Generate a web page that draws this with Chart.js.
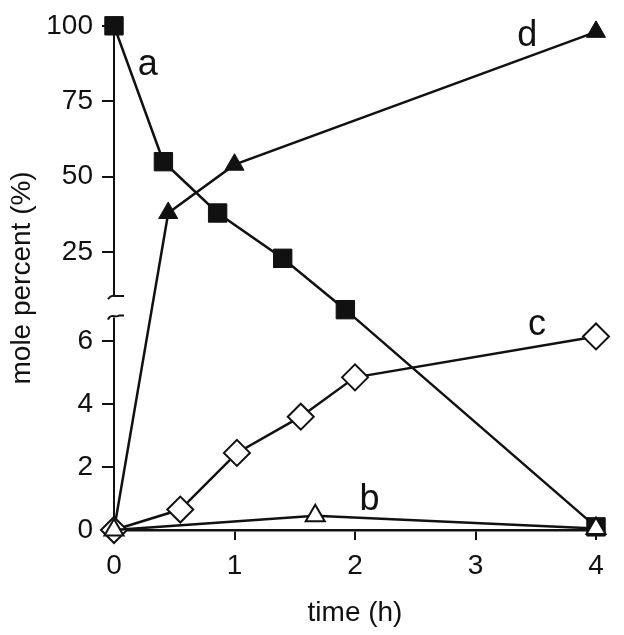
<!DOCTYPE html>
<html>
<head>
<meta charset="utf-8">
<script src="https://cdn.jsdelivr.net/npm/chart.js@4"></script>
<style>
  html, body { margin: 0; padding: 0; background: #fff; }
</style>
</head>
<body>
<canvas id="chart" width="624" height="635"></canvas>
<script>
// values: time (h) and mole percent (%)
const timeA = [0, 0.41, 0.86, 1.40, 1.92, 4];
const valuesA = [100, 55, 38, 23, 7, 0.1];
const timeB = [0, 1.67, 4];
const valuesB = [0, 0.45, 0.05];
const timeC = [0, 0.55, 1.02, 1.55, 2.0, 4];
const valuesC = [0, 0.65, 2.45, 3.6, 4.85, 6.15];
const timeD = [0, 0.45, 1.0, 4];
const valuesD = [0, 38, 54, 98];

const xTicks = [0, 1, 2, 3, 4];
const yTicks = [0, 2, 4, 6, 25, 50, 75, 100];

// curve letters and where they sit (in data units)
const seriesNames = ['a', 'b', 'c', 'd'];
const labelTimes = [0.28, 2.12, 3.51, 3.43];
const labelValues = [87, 0.95, 6.5, 96.7];

// broken y axis: value -> fraction of the axis height
const breakAnchors = [[0, 0], [7, 0.437], [10.5, 0.464], [100, 1]];
const lowerTop = 6.75, upperBottom = 10.5;

Chart.defaults.font.family = '"Liberation Sans", Arial, sans-serif';

function toDecimal(v) {
    for (let i = 1; i < breakAnchors.length; i++) {
        const [v0, d0] = breakAnchors[i - 1], [v1, d1] = breakAnchors[i];
        if (v <= v1 || i === breakAnchors.length - 1) {
            return d0 + (v - v0) / (v1 - v0) * (d1 - d0);
        }
    }
}
function fromDecimal(d) {
    for (let i = 1; i < breakAnchors.length; i++) {
        const [v0, d0] = breakAnchors[i - 1], [v1, d1] = breakAnchors[i];
        if (d <= d1 || i === breakAnchors.length - 1) {
            return v0 + (d - d0) / (d1 - d0) * (v1 - v0);
        }
    }
}

class BrokenScale extends Chart.LinearScale {
    getPixelForValue(value) {
        if (value === null || isNaN(value)) return NaN;
        return this.getPixelForDecimal(toDecimal(value));
    }
    getValueForPixel(pixel) {
        return fromDecimal(this.getDecimalForPixel(pixel));
    }
}
BrokenScale.id = 'broken';
BrokenScale.defaults = Chart.LinearScale.defaults;
Chart.register(BrokenScale);

const toPoints = (xs, ys) => xs.map((x, i) => ({ x: x, y: ys[i] }));

// y axis line with the break, drawn under the markers
const axisBreakPlugin = {
    id: 'axisBreak',
    beforeDatasetsDraw(chart) {
        const ctx = chart.ctx;
        const y = chart.scales.y;
        const x0 = chart.chartArea.left;
        const yTop = chart.chartArea.top - 2;
        const yUp = y.getPixelForValue(upperBottom);
        const yLow = y.getPixelForValue(lowerTop);
        const yBottom = chart.chartArea.bottom;
        ctx.save();
        ctx.strokeStyle = '#111';
        ctx.lineWidth = 2;
        ctx.beginPath();
        ctx.moveTo(x0, yTop);
        ctx.lineTo(x0, yUp);
        ctx.moveTo(x0, yLow);
        ctx.lineTo(x0, yBottom);
        ctx.stroke();
        // little squiggles at the break
        ctx.beginPath();
        ctx.moveTo(x0 - 6, yUp + 3);
        ctx.quadraticCurveTo(x0 - 3, yUp - 1, x0, yUp);
        ctx.lineTo(x0 + 10, yUp);
        ctx.moveTo(x0 - 6, yLow + 2);
        ctx.bezierCurveTo(x0 - 3, yLow - 5, x0 + 2, yLow + 1, x0 + 5, yLow - 2);
        ctx.lineTo(x0 + 10, yLow - 2);
        ctx.stroke();
        ctx.restore();
    },
    afterDraw(chart) {
        const ctx = chart.ctx;
        ctx.save();
        ctx.fillStyle = '#111';
        ctx.font = '36px "Liberation Sans", Arial, sans-serif';
        ctx.textAlign = 'center';
        ctx.textBaseline = 'middle';
        seriesNames.forEach((name, i) => {
            ctx.fillText(name,
                chart.scales.x.getPixelForValue(labelTimes[i]),
                chart.scales.y.getPixelForValue(labelValues[i]));
        });
        ctx.restore();
    }
};

const lineStyle = {
    borderColor: '#111',
    borderWidth: 2.5,
    tension: 0,
    pointBorderColor: '#111',
    clip: false
};

new Chart(document.getElementById('chart').getContext('2d'), {
    type: 'line',
    data: {
        datasets: [
            Object.assign({ label: 'b', data: toPoints(timeB, valuesB),
                pointStyle: 'triangle', pointRadius: 11, pointBackgroundColor: '#fff', pointBorderWidth: 2 }, lineStyle),
            Object.assign({ label: 'c', data: toPoints(timeC, valuesC),
                pointStyle: 'rectRot', pointRadius: 13, pointBackgroundColor: '#fff', pointBorderWidth: 2 }, lineStyle),
            Object.assign({ label: 'a', data: toPoints(timeA, valuesA),
                pointStyle: 'rect', pointRadius: 13, pointBackgroundColor: '#111', pointBorderWidth: 1 }, lineStyle),
            Object.assign({ label: 'd', data: toPoints(timeD, valuesD),
                pointStyle: 'triangle', pointRadius: 11, pointBackgroundColor: '#111', pointBorderWidth: 1 }, lineStyle)
        ]
    },
    options: {
        responsive: false,
        animation: false,
        devicePixelRatio: 1,
        layout: { padding: { top: 20, right: 28, bottom: 0, left: 0 } },
        plugins: {
            legend: { display: false },
            tooltip: { enabled: false }
        },
        scales: {
            x: {
                type: 'linear',
                min: 0,
                max: 4,
                afterBuildTicks: axis => { axis.ticks = xTicks.map(v => ({ value: v })); },
                afterFit: scale => { scale.height = 105; },
                grid: { display: true, drawOnChartArea: false, drawTicks: true, tickLength: 10, color: '#111', lineWidth: 2 },
                border: { display: true, color: '#111', width: 2.5 },
                ticks: { color: '#111', padding: 9, font: { size: 28 }, callback: v => String(v) },
                title: { display: true, text: 'time (h)', color: '#111', font: { size: 28 }, padding: { top: 0, bottom: 5 } }
            },
            y: {
                type: 'broken',
                min: 0,
                max: 100,
                afterBuildTicks: axis => { axis.ticks = yTicks.map(v => ({ value: v })); },
                afterFit: scale => { scale.width = 114; },
                grid: { display: true, drawOnChartArea: false, drawTicks: true, tickLength: 12, color: '#111', lineWidth: 2 },
                border: { display: false },
                ticks: { color: '#111', padding: 9, font: { size: 28 }, callback: v => String(v) },
                title: { display: true, text: 'mole percent (%)', color: '#111', font: { size: 28 }, padding: { top: 5, bottom: 0 } }
            }
        }
    },
    plugins: [axisBreakPlugin]
});
</script>
</body>
</html>
